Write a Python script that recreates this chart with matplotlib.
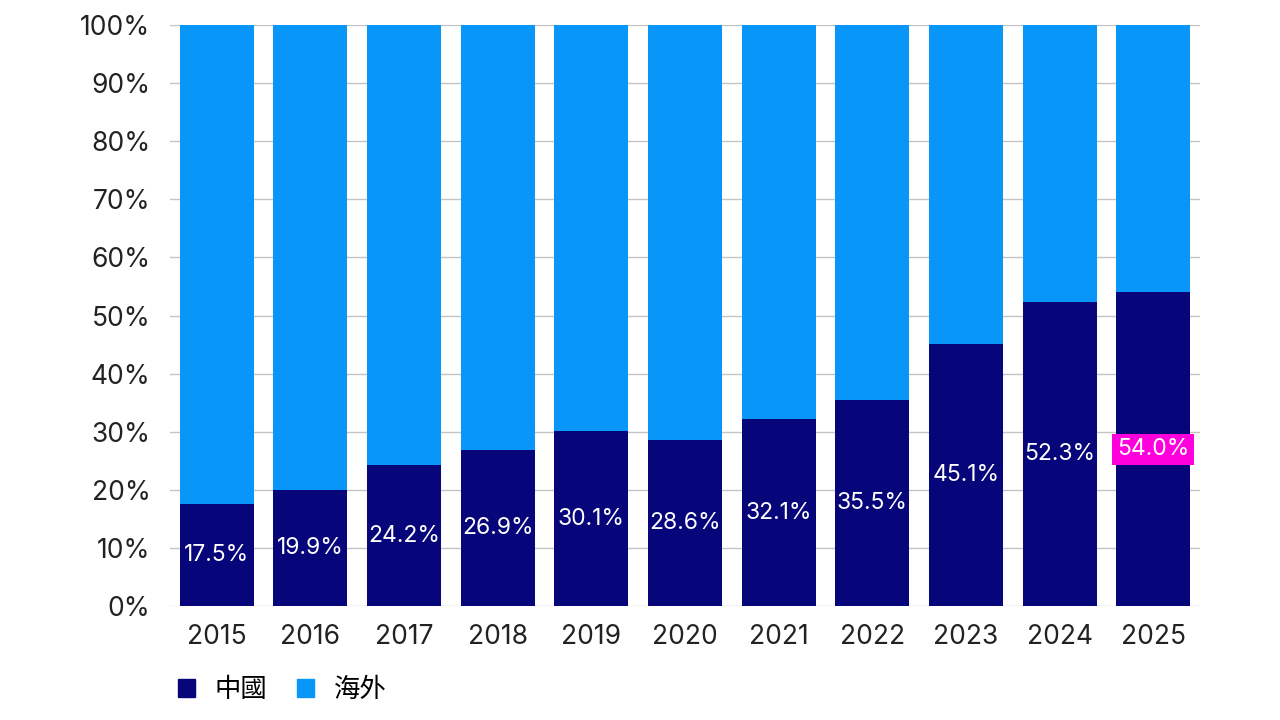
import matplotlib
matplotlib.use("Agg")
import matplotlib.pyplot as plt
from matplotlib.patches import Patch

years = ["2015", "2016", "2017", "2018", "2019", "2020", "2021", "2022", "2023", "2024", "2025"]
china = [17.5, 19.9, 24.2, 26.9, 30.1, 28.6, 32.1, 35.5, 45.1, 52.3, 54.0]
overseas = [100 - v for v in china]
series_names = ["中國", "海外"]
yticks = [0, 10, 20, 30, 40, 50, 60, 70, 80, 90, 100]

DARK = "#06067a"
LIGHT = "#0896f8"
MAGENTA = "#ff00dc"

plt.rcParams['font.family'] = ['Inter', 'Noto Sans CJK TC', 'DejaVu Sans']

fig = plt.figure(figsize=(12.8, 7.2), dpi=100)
ax = fig.add_axes([170/1280, (720-606)/720, 1030/1280, 581/720])

x = list(range(len(years)))
w = 0.79
ax.bar(x, china, width=w, color=DARK, zorder=3)
ax.bar(x, overseas, width=w, bottom=china, color=LIGHT, zorder=3)

for i, v in enumerate(china):
    if i == len(china) - 1:
        ax.text(i, v / 2, f"{v:.1f}%", ha="center", va="center", color="white",
                fontsize=16.5, zorder=5,
                bbox=dict(boxstyle="square,pad=0.2", fc=MAGENTA, ec="none"))
    else:
        ax.text(i, v / 2, f"{v:.1f}%", ha="center", va="center", color="white",
                fontsize=16.5, zorder=5)

ax.set_xlim(-0.5, len(years) - 0.5)
ax.set_ylim(0, 100)
ax.set_yticks(yticks)
ax.set_yticklabels([f"{t}%" for t in yticks])
ax.set_xticks(x)
ax.set_xticklabels(years)
ax.tick_params(axis="both", length=0, labelsize=19, colors="#222222")
ax.tick_params(axis="y", pad=14)
ax.tick_params(axis="x", pad=13)
ax.yaxis.grid(True, color="#c4c4c4", linewidth=1, zorder=0)
for s in ax.spines.values():
    s.set_visible(False)

handles = [Patch(color=DARK), Patch(color=LIGHT)]
fig.legend(handles, series_names, loc="center left", bbox_to_anchor=(178/1280, 1 - 690/720),
           ncol=2, frameon=False, fontsize=19, handlelength=0.65, handleheight=0.65,
           handletextpad=0.75, columnspacing=1.1, borderpad=0, borderaxespad=0)

fig.savefig("out.png", dpi=100, facecolor="white")
